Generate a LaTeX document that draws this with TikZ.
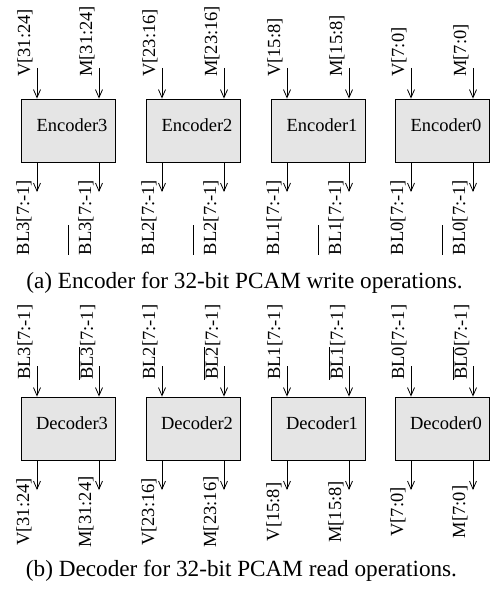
\documentclass[tikz,border=0pt]{standalone}
\usepackage{fontspec}
\setmainfont{Liberation Serif}
\usetikzlibrary{arrows.meta}
\newcommand\lblfs{\fontsize{18.5bp}{20bp}\selectfont}
\newcommand\capfs{\fontsize{23.2bp}{25bp}\selectfont}
\begin{document}
\begin{tikzpicture}[x=1bp,y=-1bp,
  blk/.style={draw, fill=black!10, minimum width=94bp, minimum height=63bp, inner sep=0pt, line width=0.8bp},
  blktxt/.style={inner sep=0pt, font=\lblfs, xshift=4bp, yshift=5bp},
  arr/.style={-{Straight Barb[length=8bp,width=7bp]}, line width=0.8bp},
  toplbl/.style={rotate=90, anchor=west, inner sep=0pt, font=\lblfs},
  botlbl/.style={rotate=90, anchor=center, inner sep=0pt, font=\lblfs},
  captxt/.style={inner sep=0pt, font=\capfs}]
\useasboundingbox (0,0) rectangle (492,589);
\foreach \i/\x/\hi/\lo in {3/68/31/24, 2/193/23/16, 1/318/15/8, 0/442/7/0} {
  % Encoder
  \node[blk, label={[blktxt]center:Encoder\i}] (enc\i) at (\x,130.5) {};
  \coordinate (eia\i) at (\x-31,68);
  \coordinate (eib\i) at (\x+31,68);
  \draw[arr] (eia\i) -- (eia\i |- enc\i.north);
  \draw[arr] (eib\i) -- (eib\i |- enc\i.north);
  \node[toplbl] (ev\i) at (\x-43,77) {V[\hi:\lo]};
  \node[toplbl] (em\i) at (\x+19,77) {M[\hi:\lo]};
  \coordinate (eoa\i) at (\x-31,192);
  \coordinate (eob\i) at (\x+31,192);
  \draw[arr] (eoa\i |- enc\i.south) -- (eoa\i);
  \draw[arr] (eob\i |- enc\i.south) -- (eob\i);
  \node[botlbl] (ebl\i) at (\x-44,217.5) {BL\i[7:-1]};
  \node[botlbl] (ebn\i) at (\x+18,217.5) {BL\i[7:-1]};
  \draw[line width=0.8bp] (\x,225) -- (\x,255);
  % Decoder
  \node[blk, label={[blktxt]center:Decoder\i}] (dec\i) at (\x,428.5) {};
  \coordinate (dia\i) at (\x-31,366);
  \coordinate (dib\i) at (\x+31,366);
  \draw[arr] (dia\i) -- (dia\i |- dec\i.north);
  \draw[arr] (dib\i) -- (dib\i |- dec\i.north);
  \node[toplbl] (dbl\i) at (\x-43,380) {BL\i[7:-1]};
  \node[toplbl] (dbn\i) at (\x+19,380) {$\overline{\hbox{BL\i}}$[7:-1]};
  \coordinate (doa\i) at (\x-31,490);
  \coordinate (dob\i) at (\x+31,490);
  \draw[arr] (doa\i |- dec\i.south) -- (doa\i);
  \draw[arr] (dob\i |- dec\i.south) -- (dob\i);
  \node[botlbl] (dv\i) at (\x-44,512) {V[\hi:\lo]};
  \node[botlbl] (dm\i) at (\x+18,512) {M[\hi:\lo]};
}
\node[captxt] (capa) at (244.5,283) {(a) Encoder for 32-bit PCAM write operations.};
\node[captxt] (capb) at (241.5,571) {(b) Decoder for 32-bit PCAM read operations.};
\end{tikzpicture}
\end{document}
